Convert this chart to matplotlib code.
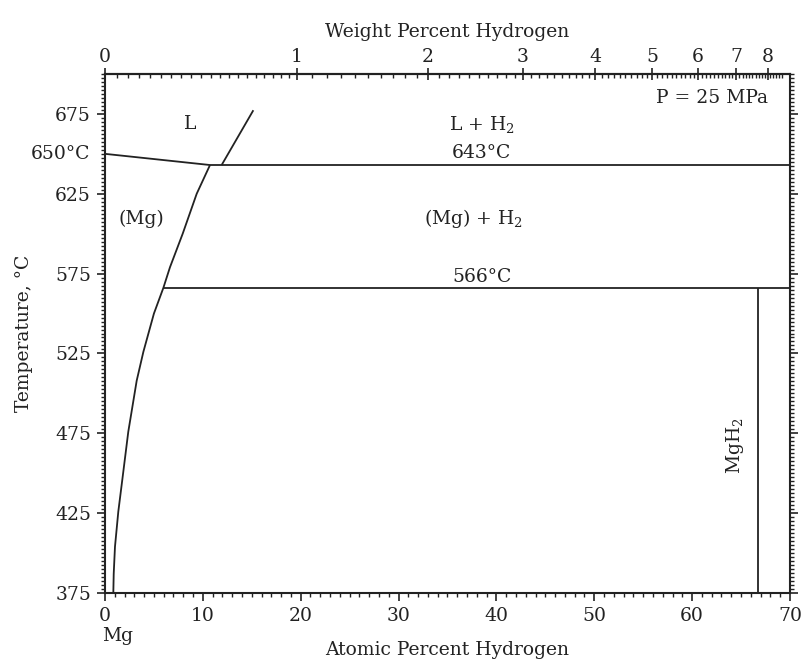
import numpy as np
import matplotlib
matplotlib.use("Agg")
import matplotlib.pyplot as plt
from matplotlib.ticker import FixedLocator, MultipleLocator
from matplotlib.transforms import blended_transform_factory

plt.rcParams['font.family'] = ['DejaVu Serif']
plt.rcParams['mathtext.fontset'] = 'dejavuserif'

# ---- data (atomic % H, temperature in deg C) ----
solvus_at = [0.85, 0.89, 1.02, 1.36, 1.77, 2.38, 3.24, 3.92, 5.0, 5.96, 6.64, 7.94, 9.37, 10.73]
solvus_T = [375, 387, 404, 426, 446, 476, 508, 526, 550, 566, 579, 600, 625, 643]
liquidus_at = [0.0, 10.73]
liquidus_T = [650, 643]
liq_h2_at = [11.92, 15.16]
liq_h2_T = [643, 677.3]
monotectic_at = [10.73, 70]
monotectic_T = [643, 643]
eutectoid_at = [5.96, 70]
eutectoid_T = [566, 566]
mgh2_at = [66.7, 66.7]
mgh2_T = [375, 566]

x_ticks = [0, 10, 20, 30, 40, 50, 60, 70]
y_ticks = [375, 425, 475, 525, 575, 625, 675]
wt_ticks = [0, 1, 2, 3, 4, 5, 6, 7, 8]

M_H = 1.008
M_MG = 24.305


def at2wt(a):
    a = np.asarray(a, dtype=float)
    return 100.0 * a * M_H / (a * M_H + (100.0 - a) * M_MG)


def wt2at(w):
    w = np.asarray(w, dtype=float)
    return 100.0 * (w / M_H) / (w / M_H + (100.0 - w) / M_MG)


fig = plt.figure(figsize=(8.03, 6.61), dpi=100)
ax = fig.add_axes([105 / 803, 1 - 593 / 661, (790 - 105) / 803, (593 - 74) / 661])

lw = 1.3
for xs, ys in [(solvus_at, solvus_T), (liquidus_at, liquidus_T), (liq_h2_at, liq_h2_T),
               (monotectic_at, monotectic_T), (eutectoid_at, eutectoid_T), (mgh2_at, mgh2_T)]:
    ax.plot(xs, ys, color='#222222', lw=lw, solid_capstyle='butt')

fs = 13.5
tc = '#222222'

ax.set_xlim(0, 70)
ax.set_ylim(375, 700)
ax.set_xticks(x_ticks)
ax.set_yticks(y_ticks)
ax.xaxis.set_minor_locator(MultipleLocator(1))
ax.yaxis.set_minor_locator(MultipleLocator(2.5))
ax.tick_params(axis='both', which='major', direction='out', length=6, width=1.2,
               labelsize=fs, colors=tc, right=True)
ax.tick_params(axis='both', which='minor', direction='out', length=3, width=1.0,
               right=True, colors=tc)
ax.tick_params(axis='x', which='both', top=False)
ax.tick_params(axis='y', which='major', pad=4)
ax.tick_params(axis='x', which='major', pad=4)
for s in ax.spines.values():
    s.set_linewidth(1.5)
    s.set_color(tc)

secax = ax.secondary_xaxis('top', functions=(at2wt, wt2at))
secax.xaxis.set_major_locator(FixedLocator(wt_ticks))
minor_wt = [round(v, 2) for v in np.arange(0, 1.0001, 0.05)] + \
           [round(v, 2) for v in np.arange(1.1, 8.55, 0.1)]
secax.xaxis.set_minor_locator(FixedLocator(minor_wt))
secax.tick_params(which='major', direction='inout', length=9, width=1.2, labelsize=fs,
                  colors=tc, pad=1)
secax.tick_params(which='minor', direction='in', length=3, width=1.0, colors=tc)
secax.spines['top'].set_linewidth(1.5)
secax.set_xlabel('Weight Percent Hydrogen', fontsize=fs, labelpad=8, color=tc)

ax.set_xlabel('Atomic Percent Hydrogen', fontsize=fs, color=tc)
ax.xaxis.set_label_coords(0.5, -0.093)
ax.set_ylabel('Temperature, °C', fontsize=fs, color=tc)
ax.yaxis.set_label_coords(-0.105, 0.5)

ax.text(8.7, 668.5, 'L', fontsize=fs, ha='center', va='center', color=tc)
ax.text(38.5, 668.5, r'L + H$_2$', fontsize=fs, ha='center', va='center', color=tc)
ax.text(38.5, 650.8, '643°C', fontsize=fs, ha='center', va='center', color=tc)
ax.text(3.7, 609.5, '(Mg)', fontsize=fs, ha='center', va='center', color=tc)
ax.text(37.7, 609.5, r'(Mg) + H$_2$', fontsize=fs, ha='center', va='center', color=tc)
ax.text(38.5, 572.8, '566°C', fontsize=fs, ha='center', va='center', color=tc)
ax.text(62.0, 685.0, 'P = 25 MPa', fontsize=fs, ha='center', va='center', color=tc)
ax.text(64.4, 467.5, r'MgH$_2$', fontsize=fs, ha='center', va='center', rotation=90, color=tc)

ytr = blended_transform_factory(ax.transAxes, ax.transData)
ax.text(-0.022, 650, '650°C', fontsize=fs, ha='right', va='center', transform=ytr, color=tc)
ax.text(0.019, -0.083, 'Mg', fontsize=fs, ha='center', va='center', transform=ax.transAxes, color=tc)

fig.savefig('out.png', dpi=100)
